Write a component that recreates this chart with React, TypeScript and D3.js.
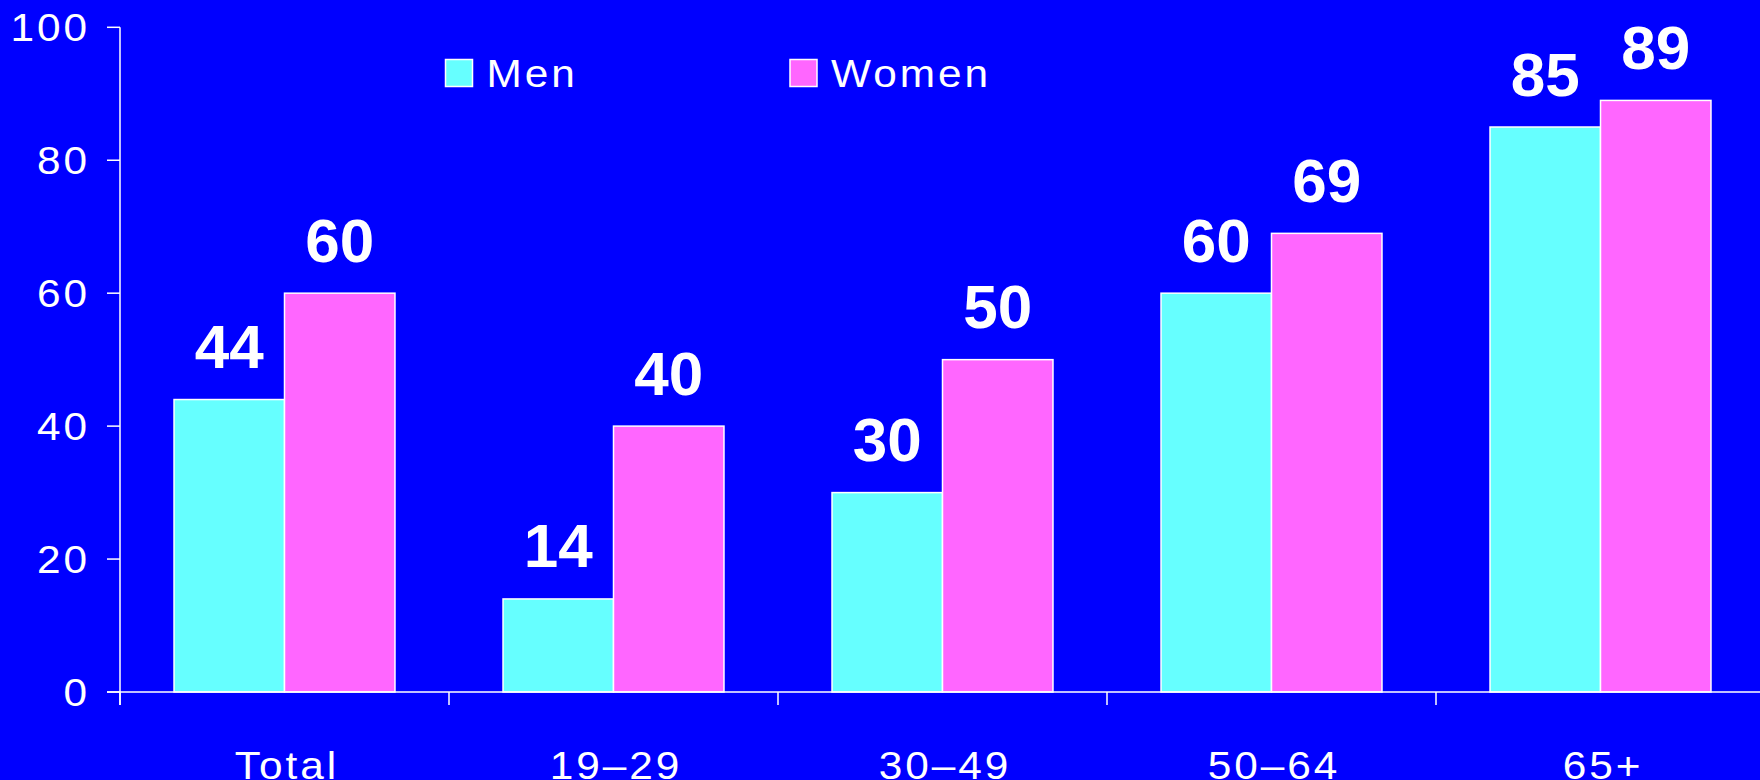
import React from "react";
import * as d3 from "d3";

const categories = ["Total", "19–29", "30–49", "50–64", "65+"];
const seriesNames = ["Men", "Women"];
const menValues = [44, 14, 30, 60, 85];
const womenValues = [60, 40, 50, 69, 89];
const yTicks = [0, 20, 40, 60, 80, 100];
const seriesColors = ["#66FFFF", "#FF66FF"];

const W = 1760;
const H = 780;
const FONT = "'Liberation Sans', Arial, sans-serif";
const SX = 1.1;
const LS = 2.7;

function WideText(props: { x: number; y: number; anchor: string; size: number; children: any }) {
  return (
    <text
      transform={`translate(${props.x},${props.y}) scale(${SX},1)`}
      textAnchor={props.anchor}
      fontFamily={FONT}
      fontSize={props.size}
      letterSpacing={LS}
      fill="#FFFFFF"
    >
      {props.children}
    </text>
  );
}

export default function App() {
  const x0 = d3.scaleBand<string>().domain(categories).range([120, 1765]).padding(0);
  const x1 = d3
    .scaleBand<string>()
    .domain(seriesNames)
    .range([0, x0.bandwidth()])
    .paddingInner(0)
    .paddingOuter(0.489);
  const y = d3.scaleLinear().domain([0, 100]).range([692, 27.3]);
  const values = [menValues, womenValues];

  const boundaries = categories.map((c) => x0(c) as number);

  return (
    <div style={{ position: "fixed", left: 0, top: 0, width: W, height: H, background: "#0000FF" }}>
      <svg width={W} height={H} style={{ display: "block" }}>
        <rect x={0} y={0} width={W} height={H} fill="#0000FF" />
        {categories.map((c, ci) =>
          seriesNames.map((s, si) => {
            const v = values[si][ci];
            const bx = (x0(c) as number) + (x1(s) as number);
            return (
              <g key={c + s}>
                <rect
                  x={bx}
                  y={y(v)}
                  width={x1.bandwidth()}
                  height={y(0) - y(v)}
                  fill={seriesColors[si]}
                  stroke="#FFFFFF"
                  strokeWidth={1.5}
                />
                <text
                  x={bx + x1.bandwidth() / 2}
                  y={y(v) - 31.5}
                  textAnchor="middle"
                  fontFamily={FONT}
                  fontWeight="bold"
                  fontSize={62}
                  fill="#FFFFFF"
                >
                  {v}
                </text>
              </g>
            );
          })
        )}
        <line x1={120} x2={120} y1={y(100)} y2={705} stroke="#FFFFFF" strokeWidth={1.5} />
        {yTicks.map((t) => (
          <g key={t}>
            <line x1={107} x2={120} y1={y(t)} y2={y(t)} stroke="#FFFFFF" strokeWidth={1.5} />
            <WideText x={90} y={y(t) + 14} anchor="end" size={38.5}>
              {t}
            </WideText>
          </g>
        ))}
        <line x1={107} x2={1765} y1={y(0)} y2={y(0)} stroke="#FFFFFF" strokeWidth={1.5} />
        {boundaries.map((bx, i) => (
          <line key={i} x1={bx} x2={bx} y1={y(0)} y2={705} stroke="#FFFFFF" strokeWidth={1.5} />
        ))}
        {categories.map((c) => (
          <WideText key={c} x={(x0(c) as number) + x0.bandwidth() / 2 + 2.5} y={779} anchor="middle" size={38.5}>
            {c}
          </WideText>
        ))}
        {seriesNames.map((s, i) => {
          const lx = i === 0 ? 445.5 : 790;
          return (
            <g key={s}>
              <rect x={lx} y={59.5} width={27} height={27} fill={seriesColors[i]} stroke="#FFFFFF" strokeWidth={1.5} />
              <WideText x={lx + 41} y={86.5} anchor="start" size={38.5}>
                {s}
              </WideText>
            </g>
          );
        })}
      </svg>
    </div>
  );
}
